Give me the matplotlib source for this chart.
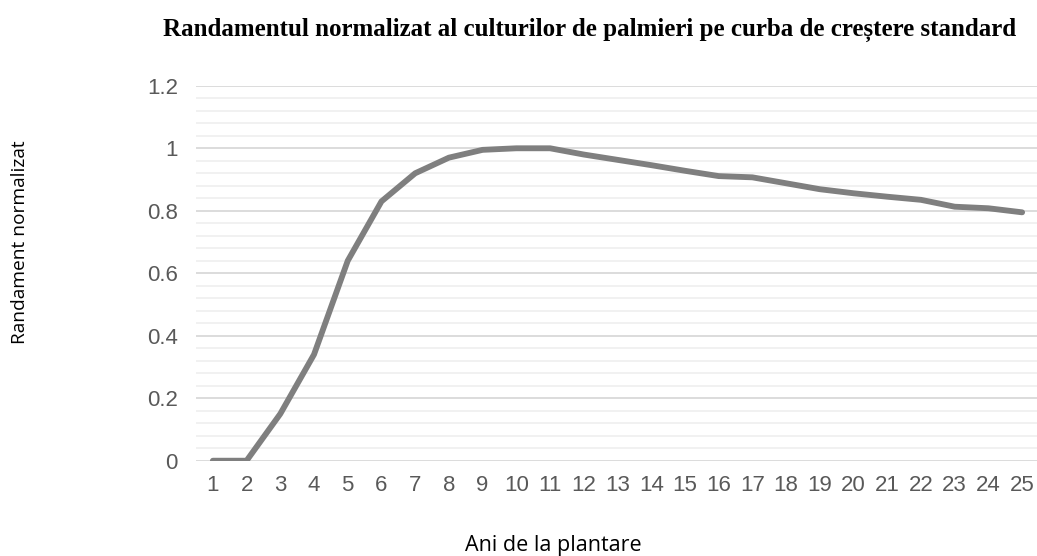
import matplotlib
matplotlib.use('Agg')
import matplotlib.pyplot as plt
from matplotlib.ticker import MultipleLocator

# ani de la plantare si randamentul normalizat
ani = list(range(1, 26))
randament = [0, 0, 0.15, 0.34, 0.64, 0.83, 0.92, 0.97, 0.995, 1.0, 1.0, 0.98, 0.963,
             0.946, 0.928, 0.911, 0.907, 0.888, 0.869, 0.856, 0.845, 0.835, 0.813,
             0.808, 0.795]
y_ticks = [0, 0.2, 0.4, 0.6, 0.8, 1.0, 1.2]
y_tick_labels = ['0', '0.2', '0.4', '0.6', '0.8', '1', '1.2']

titlu = 'Randamentul normalizat al culturilor de palmieri pe curba de creștere standard'
eticheta_x = 'Ani de la plantare'
eticheta_y = 'Randament normalizat'

fig = plt.figure(figsize=(10.37, 5.56), dpi=100)
ax = fig.add_axes([196/1037, 1-460.7/556, (1039-196)/1037, (460.7-85.8)/556])

ax.plot(ani, randament, color='#7f7f7f', lw=4.2, solid_capstyle='round',
        solid_joinstyle='round', zorder=3)

ax.set_xlim(0.5, 25.5)
ax.set_ylim(0, 1.2)
ax.set_xticks(ani)
ax.set_xticklabels([str(a) for a in ani])
ax.set_yticks(y_ticks)
ax.set_yticklabels(y_tick_labels)
ax.yaxis.set_minor_locator(MultipleLocator(0.04))

ax.grid(axis='y', which='major', color='#d9d9d9', lw=1.3)
ax.grid(axis='y', which='minor', color='#f0f0f0', lw=1.3)
ax.set_axisbelow(True)
for s in ax.spines.values():
    s.set_visible(False)
ax.tick_params(axis='both', which='both', length=0, labelsize=16,
               labelcolor='#595959', labelfontfamily='Liberation Sans')
ax.tick_params(axis='y', pad=13)
ax.tick_params(axis='x', pad=10)

fig.text(590/1037, 1-30/556, titlu, ha='center', va='center', fontsize=18,
         fontweight='bold', family='Liberation Serif', color='black')
fig.text(553/1037, 1-545/556, eticheta_x, ha='center', va='center', fontsize=15.5,
         family='Open Sans', color='black')
fig.text(20/1037, 1-242/556, eticheta_y, ha='center', va='center', fontsize=13.8,
         family='Open Sans', color='black', rotation=90)

fig.savefig('out.png', dpi=100)
